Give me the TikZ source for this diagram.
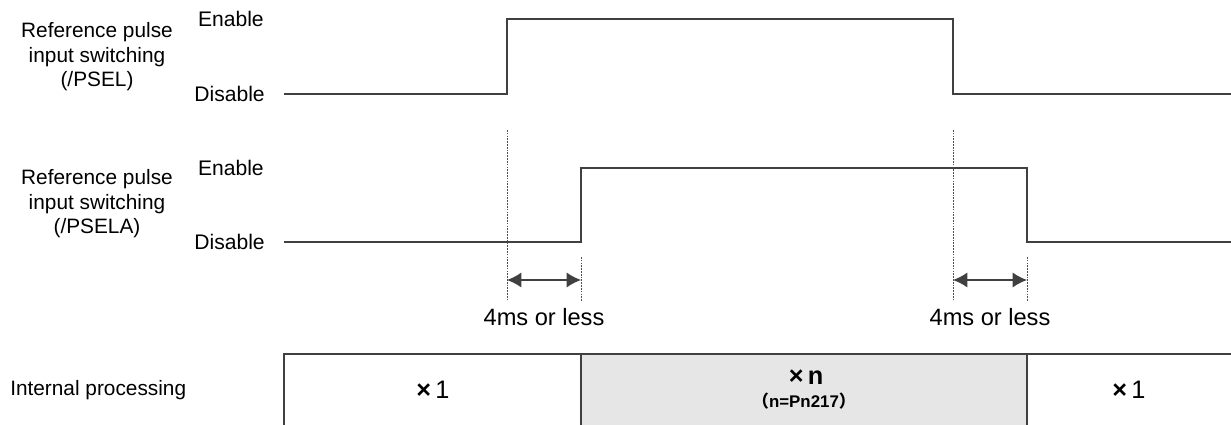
\documentclass[tikz,border=0pt]{standalone}
\usepackage{fontspec}
\setmainfont{Liberation Sans}
\newfontfamily\cjk{Noto Sans CJK JP}
\usetikzlibrary{arrows.meta, positioning}
\definecolor{SigLine}{HTML}{404040}
\definecolor{GuideLine}{HTML}{505050}
\definecolor{ProcGray}{HTML}{E6E6E6}
\tikzset{
    % Text styles
    sigtitle/.style={
        align=center,
        font=\fontsize{14.8}{17.5}\selectfont
    },
    levellabel/.style={
        anchor=east,
        inner sep=0pt,
        font=\fontsize{15}{18}\selectfont
    },
    timelabel/.style={
        inner sep=0pt,
        font=\fontsize{16.8}{20}\selectfont
    },
    % Line styles
    wave/.style={
        draw=SigLine,
        line width=0.9pt
    },
    guide/.style={
        draw=GuideLine,
        line width=0.4pt,
        dash pattern=on 1.2pt off 0.8pt
    },
    intervalarrow/.style={
        {Latex[length=0.36cm,width=0.38cm]}-{Latex[length=0.36cm,width=0.38cm]},
        draw=SigLine,
        line width=0.9pt
    },
    procbox/.style={
        draw=SigLine,
        line width=0.9pt
    }
}

\begin{document}
\begin{tikzpicture}[x=0.025cm, y=-0.025cm]
                \useasboundingbox (0,0) rectangle (1231,425);

                % /PSEL signal
                \node[sigtitle] (seltitle) at (97,57) {Reference pulse\\input switching\\(/PSEL)};
                \node[levellabel] (selen) at (264,19) {Enable};
                \node[levellabel] (seldis) at (265,94) {Disable};
                \coordinate (selstart) at (284,94);
                \coordinate (selup) at (507,94);
                \coordinate (seldown) at (953,94);
                \coordinate (selend) at (1231,94);
                \draw[wave] (selstart) -- (selup) -- ++(0,-75) -| (seldown) -- (selend);

                % /PSELA signal
                \node[sigtitle] (selatitle) at (97,204) {Reference pulse\\input switching\\(/PSELA)};
                \node[levellabel] (selaen) at (264,168) {Enable};
                \node[levellabel] (seladis) at (265,242) {Disable};
                \coordinate (selastart) at (284,242);
                \coordinate (selaup) at (581,242);
                \coordinate (seladown) at (1027,242);
                \coordinate (selaend) at (1231,242);
                \draw[wave] (selastart) -- (selaup) -- ++(0,-74) -| (seladown) -- (selaend);

                % Delay guides
                \draw[guide] (507,130) coordinate (gonetop) -- (507,301) coordinate (gonebot);
                \draw[guide] (581,257) coordinate (gtwotop) -- (581,301) coordinate (gtwobot);
                \draw[guide] (953,130) coordinate (gthreetop) -- (953,301) coordinate (gthreebot);
                \draw[guide] (1027,257) coordinate (gfourtop) -- (1027,301) coordinate (gfourbot);
                \coordinate (aonel) at (507,280);
                \coordinate (aoner) at (581,280);
                \coordinate (atwol) at (953,280);
                \coordinate (atwor) at (1027,280);
                \draw[intervalarrow] (aonel) -- (aoner);
                \draw[intervalarrow] (atwol) -- (atwor);
                \node[timelabel] (delayon) at (544,317) {4ms or less};
                \node[timelabel] (delayoff) at (990,317) {4ms or less};

                % Internal processing
                \node[anchor=west, inner sep=0pt, font=\fontsize{14.8}{17}\selectfont] (proctitle) at (10,390) {Internal processing};
                \fill[ProcGray] (581,354) rectangle (1027,425);
                \draw[procbox] (284,425) -- (284,354) -- (1231,354);
                \draw[procbox] (581,354) -- (581,425);
                \draw[procbox] (1027,354) -- (1027,425);
                \node[font=\fontsize{18}{21}\selectfont] (procone) at (433,390) {\textbf{×}\,1};
                \node[font=\fontsize{18}{21}\selectfont\bfseries] (procn) at (806,377) {×\,n};
                \node[font=\fontsize{12}{14}\selectfont\bfseries] (procpn) at (804,401) {{\cjk （}n=Pn217{\cjk ）}};
                \node[font=\fontsize{18}{21}\selectfont] (proctwo) at (1129,390) {\textbf{×}\,1};
            \end{tikzpicture}
\end{document}
